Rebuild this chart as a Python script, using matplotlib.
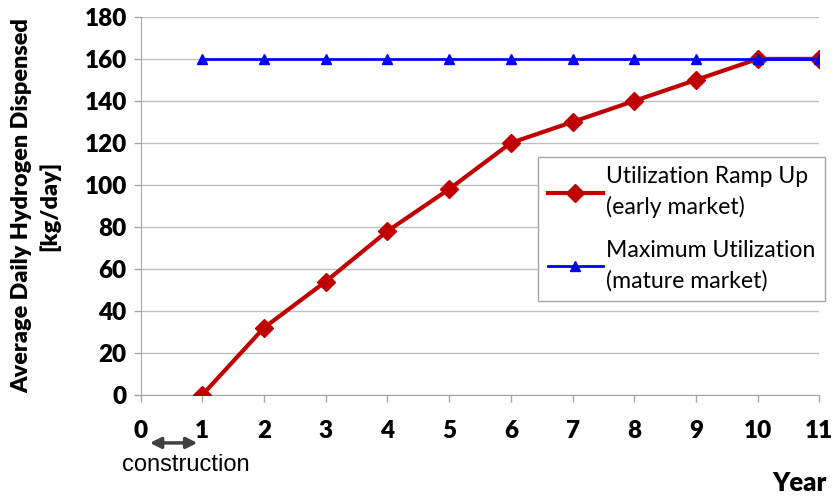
import matplotlib.pyplot as plt

years = [1, 2, 3, 4, 5, 6, 7, 8, 9, 10, 11]
ramp_up = [0, 32, 54, 78, 98, 120, 130, 140, 150, 160, 160]
max_util = [160, 160, 160, 160, 160, 160, 160, 160, 160, 160, 160]
x_ticks = list(range(0, 12))
y_ticks = list(range(0, 181, 20))

fig = plt.figure(figsize=(8.37, 4.98), dpi=100)
ax = fig.add_axes([0.168, 0.207, 0.811, 0.759])

ax.plot(years, ramp_up, color='#C00000', lw=3, marker='D', ms=9,
        label='Utilization Ramp Up\n(early market)', zorder=3)
ax.plot(years, max_util, color='#0000FF', lw=2, marker='^', ms=7,
        label='Maximum Utilization\n(mature market)', zorder=4)

ax.set_xlim(0, 11)
ax.set_ylim(0, 180)
ax.set_xticks(x_ticks)
ax.set_yticks(y_ticks)
ax.yaxis.grid(True, color='#BFBFBF', lw=1)
ax.set_axisbelow(True)
for s in ['top', 'right']:
    ax.spines[s].set_visible(False)
for s in ['left', 'bottom']:
    ax.spines[s].set_color('#A6A6A6')
ax.tick_params(axis='both', colors='#A6A6A6', length=5, width=1,
               labelcolor='black', labelsize=17.5)
ax.tick_params(axis='x', pad=13)
ax.tick_params(axis='y', pad=5)
for lab in ax.get_xticklabels() + ax.get_yticklabels():
    lab.set_fontfamily('Lato')
    lab.set_fontweight('heavy')

ax.set_ylabel('Average Daily Hydrogen Dispensed\n[kg/day]', fontsize=16.8,
              fontweight='heavy', family='Lato', linespacing=1.4, labelpad=17)
fig.text(0.988, 0.006, 'Year', ha='right', va='bottom', fontsize=18.5,
         fontweight='heavy', family='Lato')

# construction arrow
tr = ax.get_xaxis_transform()
ax.annotate('', xy=(0.92, -0.127), xytext=(0.15, -0.127), xycoords=tr,
            textcoords=tr, annotation_clip=False,
            arrowprops=dict(arrowstyle='<|-|>', color='#404040', lw=2.5,
                            mutation_scale=16, shrinkA=0, shrinkB=0))
ax.text(0.73, -0.155, 'construction', transform=tr, ha='center', va='top',
        fontsize=17, family='Liberation Sans')

leg = ax.legend(loc='upper left', bbox_to_anchor=(0.586, 0.63), fancybox=False,
                framealpha=1, edgecolor='#A6A6A6', prop={'family': 'Lato', 'size': 16.6},
                handlelength=2.4, handletextpad=0.15, labelspacing=0.95,
                borderpad=0.4, borderaxespad=0)
leg.get_frame().set_linewidth(1)
for t in leg.get_texts():
    t.set_linespacing(1.5)

plt.savefig('out.png', dpi=100)
